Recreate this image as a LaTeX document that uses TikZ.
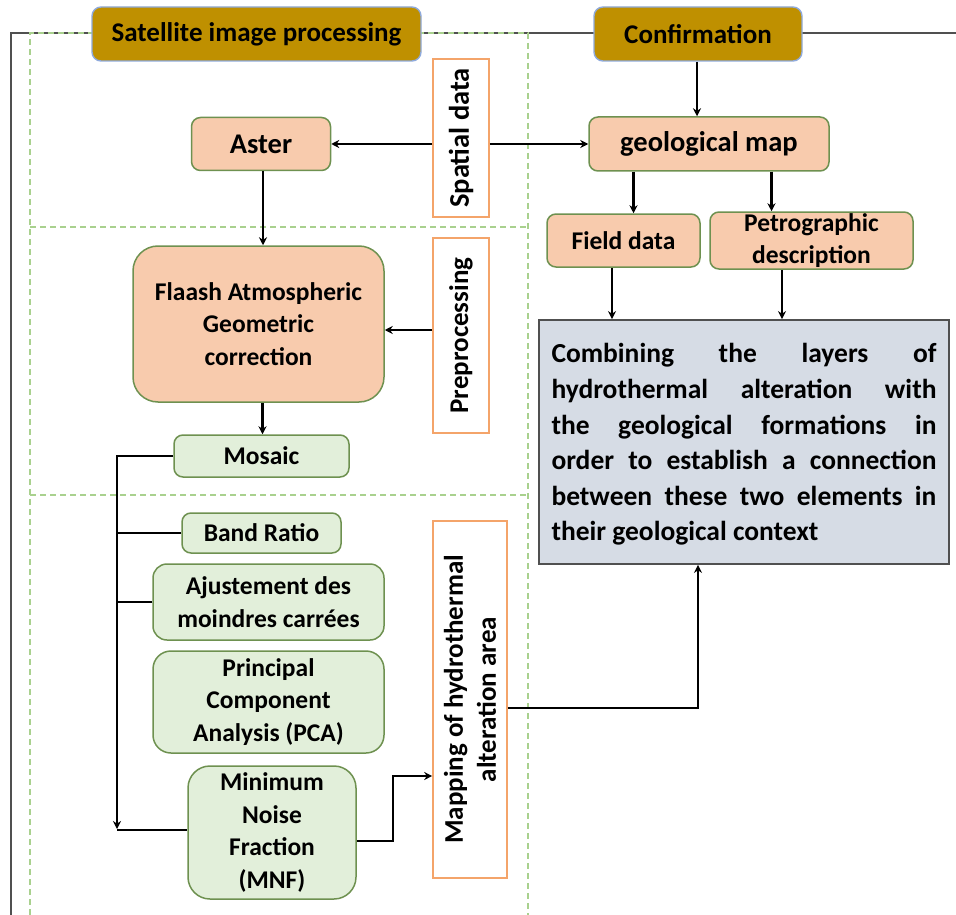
\documentclass[tikz,border=0pt]{standalone}
\usepackage{fontspec}
\setmainfont{Carlito}
\usetikzlibrary{arrows.meta,calc}
\definecolor{gold}{HTML}{BF9000}
\definecolor{goldedge}{HTML}{8FAADC}
\definecolor{peach}{HTML}{F8CBAD}
\definecolor{lgreen}{HTML}{E2EFDA}
\definecolor{gedge}{HTML}{6E9150}
\definecolor{oedge}{HTML}{F4A46A}
\definecolor{slate}{HTML}{D6DCE5}
\definecolor{dgrey}{HTML}{505050}
\definecolor{gdash}{HTML}{A9D18E}
\begin{document}
\begin{tikzpicture}[x=1pt,y=-1pt,
  every node/.style={inner sep=0pt, align=center},
  big/.style={font=\fontsize{27}{33}\selectfont\bfseries},
  bigger/.style={font=\fontsize{28.5}{33}\selectfont\bfseries},
  mid/.style={font=\fontsize{25.5}{32.5}\selectfont\bfseries},
  titlebox/.style={draw=goldedge, fill=gold, line width=1.4pt, rounded corners=9pt, big},
  peachbox/.style={draw=gedge, fill=peach, line width=1.5pt, rounded corners=9pt},
  greenbox/.style={draw=gedge, fill=lgreen, line width=1.5pt, rounded corners=9pt, mid},
  labelbox/.style={draw=oedge, fill=white, line width=1.6pt, rotate=90, big},
  conn/.style={draw=black, line width=2.5pt},
  arr/.style={conn, -{Stealth[length=8pt,width=8pt]}},
  outerline/.style={draw=dgrey, line width=2.2pt},
  gdashed/.style={draw=gdash, line width=1.5pt, dash pattern=on 6pt off 4pt},
]
\useasboundingbox (0,0) rectangle (956,915);

% frames
\draw[outerline] (11,915) -- (11,33) -- (956,33);
\draw[gdashed] (30,915) -- (30,33) -- (528,33) -- (528,915);
\draw[gdashed] (30,227) -- (528,227);
\draw[gdashed] (30,495) -- (528,495);

% nodes
\node[titlebox, minimum width=329, minimum height=54] (sat) at (256.5,34) {Satellite image processing};
\node[titlebox, minimum width=208, minimum height=54] (conf) at (698,34) {Confirmation};
\node[labelbox, bigger, minimum width=158, minimum height=56] (spatial) at (461,138) {Spatial data};
\node[peachbox, bigger, minimum width=139, minimum height=53] (aster) at (261,144) {Aster};
\node[peachbox, bigger, minimum width=240, minimum height=54] (geo) at (709,144) {geological map};
\node[peachbox, mid, minimum width=153, minimum height=53] (field) at (623.5,240.5) {Field data};
\node[peachbox, mid, minimum width=203, minimum height=57] (petro) at (811.5,240.5) {Petrographic\\description};
\node[draw=dgrey, fill=slate, line width=1.8pt, minimum width=410, minimum height=244] (comb) at (744,442) {};
\node[text width=385, align=justify, font=\fontsize{27.5}{35.6}\selectfont\bfseries] (combtext) at ([yshift=-2.5pt]comb.center)
  {\hyphenpenalty=10000\relax Combining the layers of\linebreak hydrothermal alteration with\linebreak the geological formations in\linebreak order to establish a connection\linebreak between these two elements in\linebreak their geological context};
\node[peachbox, mid, rounded corners=25pt, minimum width=251, minimum height=156] (flaash) at (258.5,324) {Flaash Atmospheric\\Geometric\\correction};
\node[labelbox, minimum width=195, minimum height=56] (prep) at (461,335.5) {Preprocessing};
\node[greenbox, minimum width=175, minimum height=42] (mosaic) at (261.5,456) {Mosaic};
\node[greenbox, minimum width=159, minimum height=40] (band) at (261.5,533) {Band Ratio};
\node[greenbox, rounded corners=14pt, minimum width=231, minimum height=76] (ajust) at (268.5,602) {Ajustement des\\moindres carrées};
\node[greenbox, rounded corners=18pt, minimum width=231, minimum height=102] (pca) at (268.5,702) {Principal\\Component\\Analysis (PCA)};
\node[greenbox, rounded corners=22pt, minimum width=168, minimum height=133] (mnf) at (272,832.5) {Minimum\\Noise\\Fraction\\(MNF)};
\node[labelbox, minimum width=357, minimum height=74] (map) at (470,699.5) {Mapping of hydrothermal\\alteration area};

\coordinate (trunk) at (117,830);

% connectors
\draw[arr] (spatial.north |- aster.east) -- (aster.east);
\draw[arr] (spatial.south |- geo.west) -- (geo.west);
\draw[arr] ([xshift=-1pt]conf.south) -- ([xshift=-1pt]conf.south |- geo.north);
\draw[arr] ([xshift=10pt]field.north |- geo.south) -- ([xshift=10pt]field.north);
\draw[arr] ([xshift=-40pt]petro.north |- geo.south) -- ([xshift=-40pt]petro.north);
\draw[arr] ([xshift=-11.5pt]field.south) -- ([xshift=-11.5pt]field.south |- comb.north);
\draw[arr] ([xshift=-29.5pt]petro.south) -- ([xshift=-29.5pt]petro.south |- comb.north);
\draw[arr] ([xshift=2pt]aster.south) -- ([xshift=2pt]aster.south |- flaash.north);
\draw[arr] ([yshift=5.5pt]prep.north) -- ([yshift=5.5pt]prep.north -| flaash.east);
\draw[arr] ([xshift=4pt]flaash.south) -- ([xshift=4pt]flaash.south |- mosaic.north);
\draw[arr] (mosaic.west) -| ([yshift=1pt]trunk);
\draw[conn] (band.west) -- (band.west -| trunk);
\draw[conn] (ajust.west) -- (ajust.west -| trunk);
\draw[conn] (trunk) -- (trunk -| mnf.west);
\draw[arr] ([yshift=-8.5pt]mnf.east) -- ++(36,0) |- ([yshift=-76.5pt]map.north);
\draw[arr] ([yshift=-8.5pt]map.south) -| ([xshift=-46pt]comb.south);
\end{tikzpicture}
\end{document}
